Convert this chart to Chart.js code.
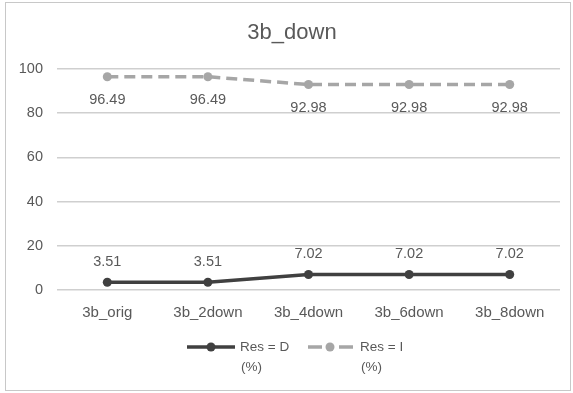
<!DOCTYPE html>
<html>
<head>
<meta charset="utf-8">
<script src="https://cdn.jsdelivr.net/npm/chart.js@4.4.1/dist/chart.umd.min.js"></script>
<style>
html,body{margin:0;padding:0;background:#fff;}
#wrap{position:relative;width:573px;height:393px;}
</style>
</head>
<body>
<div id="wrap"><canvas id="c" width="573" height="393"></canvas></div>
<script>
const categories = ["3b_orig", "3b_2down", "3b_4down", "3b_6down", "3b_8down"];
const resD = [3.51, 3.51, 7.02, 7.02, 7.02];
const resI = [96.49, 96.49, 92.98, 92.98, 92.98];
const yTicks = [0, 20, 40, 60, 80, 100];
const seriesNames = [["Res = D", "(%)"], ["Res = I", "(%)"]];
const titleText = "3b_down";

const TEXT = "#595959";
const DARK = "#404040";
const LIGHT = "#a6a6a6";
const FONT = "'Liberation Sans', Arial, sans-serif";

const frame = {
  id: "frame",
  beforeDraw(chart) {
    const ctx = chart.ctx;
    ctx.save();
    ctx.fillStyle = "#fff";
    ctx.fillRect(0, 0, chart.width, chart.height);
    ctx.strokeStyle = "#c8c8c8";
    ctx.lineWidth = 1;
    ctx.strokeRect(5.5, 2.5, 565, 388);
    ctx.fillStyle = TEXT;
    ctx.font = "22px " + FONT;
    ctx.textAlign = "center";
    ctx.textBaseline = "middle";
    ctx.fillText(titleText, 292, 33);
    ctx.restore();
  }
};

const dataLabels = {
  id: "dataLabels",
  afterDatasetsDraw(chart) {
    const ctx = chart.ctx;
    ctx.save();
    ctx.font = "14.5px " + FONT;
    ctx.fillStyle = TEXT;
    ctx.textAlign = "center";
    ctx.textBaseline = "middle";
    chart.data.datasets.forEach((ds, i) => {
      const meta = chart.getDatasetMeta(i);
      meta.data.forEach((pt, j) => {
        const off = i === 0 ? -20 : 23;
        ctx.fillText(ds.data[j].toFixed(2), pt.x, pt.y + off);
      });
    });
    ctx.restore();
  }
};

const customLegend = {
  id: "customLegend",
  afterDraw(chart) {
    const ctx = chart.ctx;
    const items = [
      {x0: 187, x1: 235, mx: 211, tx: 240, color: DARK, dash: []},
      {x0: 308, x1: 353, mx: 330, tx: 360, color: LIGHT, dash: [14, 17]}
    ];
    const y = 347;
    ctx.save();
    items.forEach((it, i) => {
      ctx.strokeStyle = it.color;
      ctx.lineWidth = 3.5;
      ctx.setLineDash(it.dash);
      ctx.beginPath();
      ctx.moveTo(it.x0, y);
      ctx.lineTo(it.x1, y);
      ctx.stroke();
      ctx.setLineDash([]);
      ctx.fillStyle = it.color;
      ctx.beginPath();
      ctx.arc(it.mx, y, 4.5, 0, Math.PI * 2);
      ctx.fill();
      ctx.fillStyle = TEXT;
      ctx.font = "13.5px " + FONT;
      ctx.textAlign = "left";
      ctx.textBaseline = "middle";
      ctx.fillText(seriesNames[i][0], it.tx, y);
      ctx.fillText(seriesNames[i][1], it.tx + 1, y + 20);
    });
    ctx.restore();
  }
};

new Chart(document.getElementById("c"), {
  type: "line",
  data: {
    labels: categories,
    datasets: [
      {
        label: seriesNames[0].join(" "),
        data: resD,
        borderColor: DARK,
        backgroundColor: DARK,
        borderWidth: 3.5,
        pointRadius: 4.5,
        pointBackgroundColor: DARK,
        pointBorderWidth: 0,
        tension: 0
      },
      {
        label: seriesNames[1].join(" "),
        data: resI,
        borderColor: LIGHT,
        backgroundColor: LIGHT,
        borderWidth: 3.5,
        borderDash: [11, 6],
        pointRadius: 4.5,
        pointBackgroundColor: LIGHT,
        pointBorderWidth: 0,
        tension: 0
      }
    ]
  },
  options: {
    responsive: false,
    animation: false,
    devicePixelRatio: 1,
    layout: {padding: {left: 0, right: 13, top: 69, bottom: 63}},
    plugins: {
      legend: {display: false},
      tooltip: {enabled: false},
      title: {display: false}
    },
    scales: {
      x: {
        offset: true,
        grid: {display: false, drawTicks: false, offset: true},
        border: {display: false},
        ticks: {color: TEXT, font: {family: FONT, size: 15}, padding: 14, maxRotation: 0},
        afterFit(s) { s.height = 40; }
      },
      y: {
        min: 0,
        max: 100,
        afterBuildTicks(s) { s.ticks = yTicks.map(v => ({value: v})); },
        grid: {color: "#cfcfcf", lineWidth: 1.5, drawTicks: false},
        border: {display: false},
        ticks: {color: TEXT, font: {family: FONT, size: 14.5}, padding: 14},
        afterFit(s) { s.width = 57; }
      }
    }
  },
  plugins: [frame, dataLabels, customLegend]
});
</script>
</body>
</html>
